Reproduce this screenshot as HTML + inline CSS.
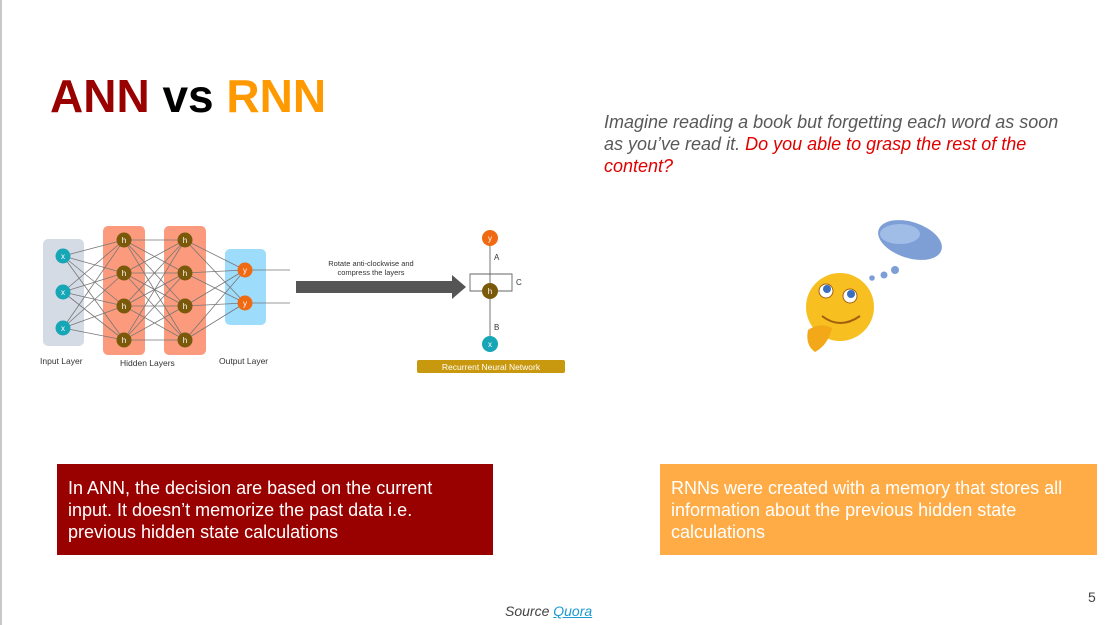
<!DOCTYPE html>
<html><head><meta charset="utf-8"><style>
body{margin:0;width:1111px;height:625px;background:#fff;position:relative;overflow:hidden;font-family:"Liberation Sans",sans-serif}
.a{position:absolute}
</style></head><body>
<div class="a" style="left:0;top:0;width:2px;height:625px;background:#c8c8c8"></div>
<div class="a" style="left:50px;top:70px;font-size:46px;font-weight:bold;line-height:52px"><span style="color:#990000">ANN</span> <span style="color:#000">vs</span> <span style="color:#ff9900">RNN</span></div>
<div class="a" style="left:604px;top:111px;width:478px;font-size:18px;font-style:italic;line-height:22px;color:#595959">Imagine reading a book but forgetting each word as soon as you’ve read it. <span style="color:#e00000">Do you able to grasp the rest of the content?</span></div>

<svg class="a" style="left:0;top:0" width="1111" height="625">
<g font-family="Liberation Sans,sans-serif">
<rect x="43" y="239" width="41" height="107" rx="5" fill="#d5dbe5"/>
<rect x="103" y="226" width="42" height="129" rx="5" fill="#fb9a7c"/>
<rect x="164" y="226" width="42" height="129" rx="5" fill="#fb9a7c"/>
<rect x="225" y="249" width="41" height="76" rx="5" fill="#9ddcfb"/>
<g stroke="#777" stroke-width="0.8">
<line x1="63" y1="256" x2="124" y2="240"/><line x1="63" y1="256" x2="124" y2="273"/><line x1="63" y1="256" x2="124" y2="306"/><line x1="63" y1="256" x2="124" y2="340"/>
<line x1="63" y1="292" x2="124" y2="240"/><line x1="63" y1="292" x2="124" y2="273"/><line x1="63" y1="292" x2="124" y2="306"/><line x1="63" y1="292" x2="124" y2="340"/>
<line x1="63" y1="328" x2="124" y2="240"/><line x1="63" y1="328" x2="124" y2="273"/><line x1="63" y1="328" x2="124" y2="306"/><line x1="63" y1="328" x2="124" y2="340"/>
<line x1="124" y1="240" x2="185" y2="240"/><line x1="124" y1="240" x2="185" y2="273"/><line x1="124" y1="240" x2="185" y2="306"/><line x1="124" y1="240" x2="185" y2="340"/>
<line x1="124" y1="273" x2="185" y2="240"/><line x1="124" y1="273" x2="185" y2="273"/><line x1="124" y1="273" x2="185" y2="306"/><line x1="124" y1="273" x2="185" y2="340"/>
<line x1="124" y1="306" x2="185" y2="240"/><line x1="124" y1="306" x2="185" y2="273"/><line x1="124" y1="306" x2="185" y2="306"/><line x1="124" y1="306" x2="185" y2="340"/>
<line x1="124" y1="340" x2="185" y2="240"/><line x1="124" y1="340" x2="185" y2="273"/><line x1="124" y1="340" x2="185" y2="306"/><line x1="124" y1="340" x2="185" y2="340"/>
<line x1="185" y1="240" x2="245" y2="270"/><line x1="185" y1="240" x2="245" y2="303"/>
<line x1="185" y1="273" x2="245" y2="270"/><line x1="185" y1="273" x2="245" y2="303"/>
<line x1="185" y1="306" x2="245" y2="270"/><line x1="185" y1="306" x2="245" y2="303"/>
<line x1="185" y1="340" x2="245" y2="270"/><line x1="185" y1="340" x2="245" y2="303"/>
<line x1="245" y1="270" x2="290" y2="270"/><line x1="245" y1="303" x2="290" y2="303"/>
</g>
<g fill="#16a6b6"><circle cx="63" cy="256" r="7.5"/><circle cx="63" cy="292" r="7.5"/><circle cx="63" cy="328" r="7.5"/><circle cx="490" cy="344" r="8"/></g>
<g fill="#7a5a0a"><circle cx="124" cy="240" r="7.5"/><circle cx="124" cy="273" r="7.5"/><circle cx="124" cy="306" r="7.5"/><circle cx="124" cy="340" r="7.5"/>
<circle cx="185" cy="240" r="7.5"/><circle cx="185" cy="273" r="7.5"/><circle cx="185" cy="306" r="7.5"/><circle cx="185" cy="340" r="7.5"/><circle cx="490" cy="291" r="8"/></g>
<g fill="#ef6a12"><circle cx="245" cy="270" r="7.5"/><circle cx="245" cy="303" r="7.5"/><circle cx="490" cy="238" r="8"/></g>
<g fill="#fff" font-size="8" text-anchor="middle">
<text x="63" y="259">x</text><text x="63" y="295">x</text><text x="63" y="331">x</text>
<text x="124" y="243">h</text><text x="124" y="276">h</text><text x="124" y="309">h</text><text x="124" y="343">h</text>
<text x="185" y="243">h</text><text x="185" y="276">h</text><text x="185" y="309">h</text><text x="185" y="343">h</text>
<text x="245" y="273">y</text><text x="245" y="306">y</text>
<text x="490" y="241">y</text><text x="490" y="294">h</text><text x="490" y="347">x</text>
</g>
<g font-size="8.5" fill="#333">
<text x="40" y="364">Input Layer</text><text x="120" y="366">Hidden Layers</text><text x="219" y="364">Output Layer</text>
</g>
<polygon points="296,281 452,281 452,275 466,287 452,299 452,293 296,293" fill="#555"/>
<text x="371" y="266" font-size="7.5" fill="#333" text-anchor="middle">Rotate anti-clockwise and</text>
<text x="371" y="275" font-size="7.5" fill="#333" text-anchor="middle">compress the layers</text>
<g stroke="#666" stroke-width="0.9" fill="none">
<line x1="490" y1="246" x2="490" y2="283"/><line x1="490" y1="299" x2="490" y2="336"/>
<polyline points="490,274 470,274 470,291 482,291"/><polyline points="490,274 512,274 512,291 498,291"/>
</g>
<text x="494" y="260" font-size="8" fill="#333">A</text><text x="494" y="330" font-size="8" fill="#333">B</text><text x="516" y="285" font-size="8" fill="#333">C</text>
<rect x="417" y="360" width="148" height="13" rx="2" fill="#c8980e"/>
<text x="491" y="370" font-size="8.5" fill="#fff" text-anchor="middle">Recurrent Neural Network</text>
<ellipse cx="910" cy="240" rx="33" ry="18" fill="#7d9fd6" transform="rotate(18 910 240)"/>
<ellipse cx="900" cy="234" rx="20" ry="10" fill="#a9c4ec" opacity="0.8"/>
<circle cx="895" cy="270" r="4" fill="#7d9fd6"/><circle cx="884" cy="275" r="3.5" fill="#7d9fd6"/><circle cx="872" cy="278" r="2.8" fill="#7d9fd6"/>
<circle cx="840" cy="307" r="34" fill="#f8bf20"/>
<circle cx="826" cy="291" r="7" fill="#fff" stroke="#a06010"/><circle cx="850" cy="296" r="7" fill="#fff" stroke="#a06010"/>
<circle cx="827" cy="289" r="4" fill="#3a6fc0"/><circle cx="851" cy="294" r="4" fill="#3a6fc0"/>
<path d="M822 316 Q840 330 860 316" stroke="#a06010" stroke-width="2" fill="none"/>
<path d="M808 330 Q820 322 832 328 Q828 345 815 352 Q805 345 808 330Z" fill="#f2a818"/>
</g>
</svg>

<div class="a" style="left:57px;top:464px;width:436px;height:91px;background:#990000"></div>
<div class="a" style="left:68px;top:477px;width:388px;color:#fff;font-size:18px;line-height:22px">In ANN, the decision are based on the current input. It doesn’t memorize the past data i.e. previous hidden state calculations</div>
<div class="a" style="left:660px;top:464px;width:437px;height:91px;background:#ffac47"></div>
<div class="a" style="left:671px;top:477px;width:412px;color:#fff;font-size:18px;line-height:22px">RNNs were created with a memory that stores all information about the previous hidden state calculations</div>
<div class="a" style="left:505px;top:603px;font-size:14px;font-style:italic;color:#444">Source <span style="color:#1a9ad0;text-decoration:underline">Quora</span></div>
<div class="a" style="left:1088px;top:589px;font-size:14px;color:#444">5</div>
</body></html>
